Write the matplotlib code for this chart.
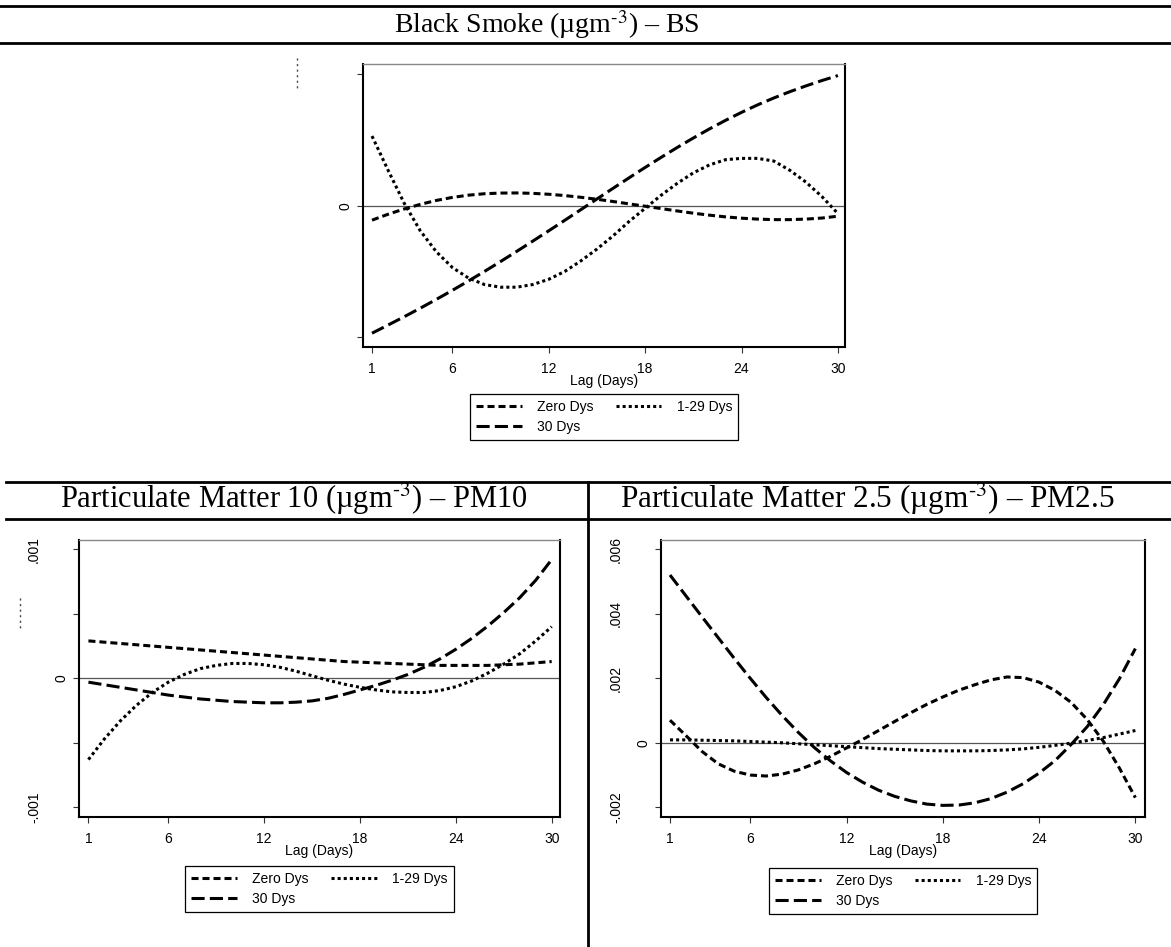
import numpy as np
import matplotlib
matplotlib.use("Agg")
import matplotlib.pyplot as plt
from matplotlib.lines import Line2D
from matplotlib.transforms import offset_copy

plt.rcParams['font.family'] = ['Liberation Sans', 'DejaVu Sans']
plt.rcParams['mathtext.fontset'] = 'stix'

# --- data (lag in days, effects) ---
lags = list(range(1, 31))

# Black Smoke: y axis is unlabelled apart from 0, values in tick units
bs_zero = [-0.11, -0.065, -0.025, 0.01, 0.04, 0.063, 0.08, 0.091, 0.096, 0.097,
           0.094, 0.087, 0.077, 0.064, 0.049, 0.032, 0.014, -0.004, -0.022, -0.04,
           -0.057, -0.072, -0.085, -0.095, -0.102, -0.106, -0.106, -0.102, -0.094, -0.08]
bs_mid = [0.53, 0.27, 0.02, -0.19, -0.35, -0.47, -0.55, -0.60, -0.62, -0.62,
          -0.60, -0.56, -0.50, -0.42, -0.33, -0.23, -0.12, -0.02, 0.08, 0.17,
          0.25, 0.31, 0.35, 0.36, 0.36, 0.34, 0.27, 0.18, 0.07, -0.06]
bs_30 = [-0.97, -0.908, -0.845, -0.78, -0.713, -0.644, -0.573, -0.50, -0.425, -0.348,
         -0.27, -0.191, -0.111, -0.03, 0.051, 0.132, 0.212, 0.291, 0.368, 0.443,
         0.515, 0.584, 0.649, 0.71, 0.767, 0.819, 0.867, 0.911, 0.952, 0.99]

# PM10, values in units of 0.001
pm10_zero = [0.29, 0.28, 0.27, 0.26, 0.25, 0.24, 0.23, 0.22, 0.21, 0.20,
             0.19, 0.18, 0.17, 0.16, 0.15, 0.14, 0.13, 0.125, 0.12, 0.115,
             0.11, 0.105, 0.10, 0.10, 0.10, 0.10, 0.105, 0.11, 0.12, 0.13]
pm10_mid = [-0.63, -0.47, -0.33, -0.21, -0.11, -0.03, 0.03, 0.075, 0.10, 0.115,
            0.115, 0.105, 0.085, 0.055, 0.02, -0.015, -0.045, -0.07, -0.09, -0.105,
            -0.11, -0.11, -0.095, -0.065, -0.02, 0.04, 0.11, 0.19, 0.29, 0.40]
pm10_30 = [-0.03, -0.05, -0.07, -0.09, -0.11, -0.13, -0.145, -0.16, -0.17, -0.18,
           -0.185, -0.19, -0.19, -0.185, -0.175, -0.155, -0.125, -0.09, -0.055, -0.015,
           0.03, 0.085, 0.15, 0.225, 0.31, 0.405, 0.51, 0.625, 0.76, 0.92]

# PM2.5, values in units of 0.001
pm25_zero = [0.70, 0.22, -0.27, -0.65, -0.88, -1.0, -1.03, -0.97, -0.84, -0.65,
             -0.42, -0.16, 0.10, 0.38, 0.66, 0.93, 1.19, 1.42, 1.63, 1.80,
             1.95, 2.04, 2.02, 1.88, 1.62, 1.25, 0.72, 0.05, -0.78, -1.70]
pm25_mid = [0.09, 0.09, 0.08, 0.07, 0.06, 0.04, 0.02, 0.0, -0.03, -0.06,
            -0.09, -0.12, -0.15, -0.18, -0.20, -0.22, -0.24, -0.25, -0.25, -0.25,
            -0.24, -0.22, -0.19, -0.14, -0.08, -0.01, 0.07, 0.16, 0.27, 0.38]
pm25_30 = [5.2, 4.55, 3.9, 3.26, 2.62, 2.0, 1.4, 0.84, 0.32, -0.15,
           -0.56, -0.92, -1.22, -1.47, -1.66, -1.80, -1.90, -1.94, -1.93, -1.86,
           -1.73, -1.53, -1.27, -0.94, -0.55, -0.05, 0.50, 1.18, 1.98, 2.92]

series_labels = ['Zero Dys', '1-29 Dys', '30 Dys']
xtick_vals = [1, 6, 12, 18, 24, 30]

bs_yticks = [-1, 0, 1]
bs_ylabels = ['', '0', '']
pm10_yticks = [-1, -0.5, 0, 0.5, 1]
pm10_ylabels = ['-.001', '', '0', '', '.001']
pm25_yticks = [-2, 0, 2, 4, 6]
pm25_ylabels = ['-.002', '0', '.002', '.004', '.006']

sup = '$^{\\text{-3}}$'
titles = ['Black Smoke (µgm' + sup + ') – BS',
          'Particulate Matter 10 (µgm' + sup + ') – PM10',
          'Particulate Matter 2.5 (µgm' + sup + ') – PM2.5']

W, H = 1171, 947
fig = plt.figure(figsize=(W / 100, H / 100), dpi=100)

LW = 2.2
FS = 10
styles = {
    'Zero Dys': (0, (2.3, 1.3)),
    '1-29 Dys': (0, (1, 1)),
    '30 Dys': (0, (4.3, 1.7)),
}


def px_axes(left, top, right, bottom):
    return fig.add_axes([left / W, 1 - bottom / H, (right - left) / W, (bottom - top) / H])


def panel(ax, zero, mid, d30, xlim, ylim, yticks, ylabels, leg_top):
    ax.axhline(0, color='#555555', lw=0.9, zorder=1)
    h1, = ax.plot(lags, zero, color='black', lw=LW, ls=styles['Zero Dys'], label=series_labels[0])
    h2, = ax.plot(lags, mid, color='black', lw=LW, ls=styles['1-29 Dys'], label=series_labels[1])
    h3, = ax.plot(lags, d30, color='black', lw=LW, ls=styles['30 Dys'], label=series_labels[2])
    ax.set_xlim(*xlim)
    ax.set_ylim(*ylim)
    ax.set_xticks(xtick_vals)
    ax.set_xticklabels([str(v) for v in xtick_vals])
    ax.set_yticks(yticks)
    ax.set_yticklabels([])
    ax.tick_params(direction='out', length=4, width=0.8, color='#333333', labelsize=FS, pad=7)
    for s in ['left', 'bottom', 'right']:
        ax.spines[s].set_color('black')
        ax.spines[s].set_linewidth(1.5)
    ax.spines['top'].set_color('#888888')
    ax.spines['top'].set_linewidth(1.0)
    ax.set_xlabel('Lag (Days)', fontsize=FS, labelpad=-2)
    # rotated y labels, Stata-style
    for v, lab in zip(yticks, ylabels):
        if not lab:
            continue
        dx = 18 if lab == '0' else 45
        tr = offset_copy(ax.get_yaxis_transform(), fig=fig, x=-dx, y=0, units='dots')
        ax.text(0, v, lab, transform=tr, rotation=90, ha='center', va='center', fontsize=FS)
    ax.legend(handles=[h1, h3, h2], ncol=2, loc='upper center',
              bbox_to_anchor=(0.5, leg_top), fontsize=FS, frameon=True, fancybox=False,
              edgecolor='black', framealpha=1, handlelength=3.3, handletextpad=1.1,
              columnspacing=1.6, labelspacing=0.4, borderpad=0.45, borderaxespad=0)
    ax.legend_.get_frame().set_linewidth(0.9)


ax_bs = px_axes(363, 64, 845, 347)
panel(ax_bs, bs_zero, bs_mid, bs_30, (0.44, 30.44), (-1.075, 1.078),
      bs_yticks, bs_ylabels, -0.166)

ax_10 = px_axes(79, 540, 560, 817)
panel(ax_10, pm10_zero, pm10_mid, pm10_30, (0.41, 30.52), (-1.075, 1.072),
      pm10_yticks, pm10_ylabels, -0.177)

ax_25 = px_axes(661, 540, 1145, 817)
panel(ax_25, pm25_zero, pm25_mid, pm25_30, (0.44, 30.6), (-2.30, 6.285),
      pm25_yticks, pm25_ylabels, -0.184)

# table rules
def hline(y, x0=0, x1=W):
    fig.add_artist(Line2D([x0 / W, x1 / W], [1 - y / H, 1 - y / H], color='black', lw=2.0,
                          transform=fig.transFigure))

hline(6)
hline(43)
hline(482, 6)
hline(519, 6)
fig.add_artist(Line2D([588 / W, 588 / W], [1 - 482 / H, 0], color='black', lw=2.0,
                      transform=fig.transFigure))

# faint leftovers of hidden y titles
for x, y0, y1 in [(297, 58, 90), (20, 598, 630)]:
    fig.add_artist(Line2D([x / W, x / W], [1 - y0 / H, 1 - y1 / H], color='#444444', lw=1.0,
                          ls=(0, (1.5, 2.5)), transform=fig.transFigure))

tkw = dict(family=['Liberation Serif', 'DejaVu Serif'], ha='center', va='baseline')
fig.text(547 / W, 1 - 33 / H, titles[0], fontsize=20, **tkw)
fig.text(294 / W, 1 - 508 / H, titles[1], fontsize=22, **tkw)
fig.text(867 / W, 1 - 508 / H, titles[2], fontsize=22.5, **tkw)

fig.savefig('out.png', dpi=100)
